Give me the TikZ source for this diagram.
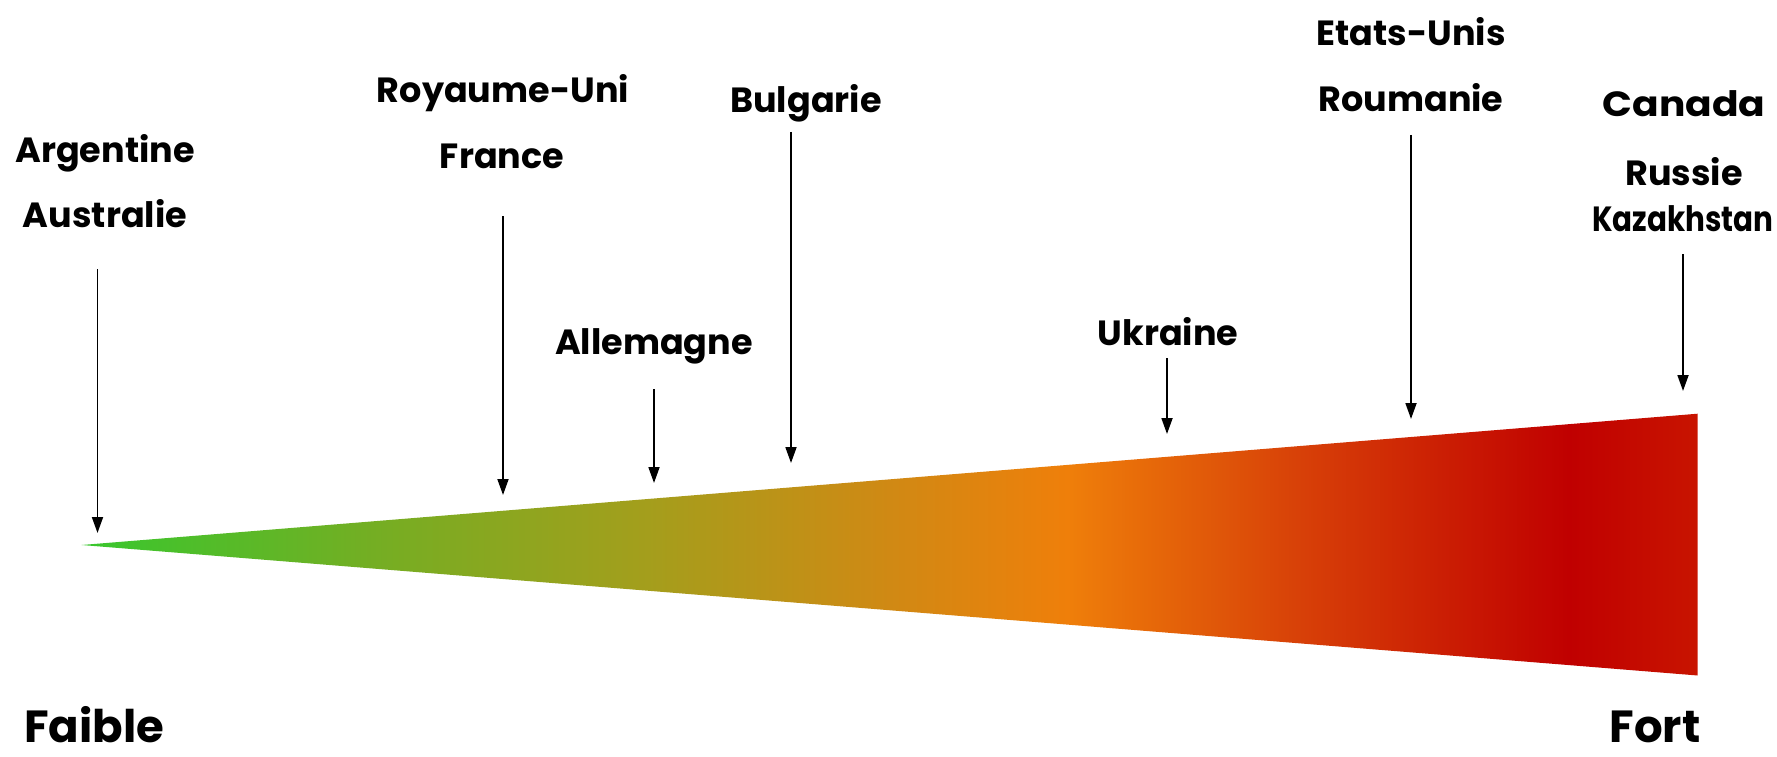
\documentclass[tikz,border=0pt]{standalone}
\usepackage{fontspec}
\setmainfont{Poppins}
\usetikzlibrary{arrows.meta}
\definecolor{cgreen}{HTML}{38C72E}
\definecolor{cgreen2}{HTML}{74AE23}
\definecolor{colive}{HTML}{A49E1C}
\definecolor{cochre}{HTML}{D08914}
\definecolor{corange}{HTML}{EF7F0A}
\definecolor{cred1}{HTML}{D84208}
\definecolor{cred}{HTML}{C00000}
\definecolor{cred2}{HTML}{C81400}
% path bounding box maps to 25bp..75bp of the shading
\pgfdeclarehorizontalshading{heat}{100bp}{color(0bp)=(cgreen); color(25bp)=(cgreen); color(34bp)=(cgreen2); color(42.5bp)=(colive); color(50bp)=(cochre); color(55.5bp)=(corange); color(62.5bp)=(cred1); color(71bp)=(cred); color(75bp)=(cred2); color(100bp)=(cred2)}
\begin{document}
\begin{tikzpicture}[x=1pt,y=-1pt,
  lbl/.style={font=\fontsize{35}{40}\selectfont\bfseries, inner sep=0pt, anchor=base},
  big/.style={font=\fontsize{45}{50}\selectfont\bfseries, inner sep=0pt, anchor=base, text depth=0pt},
  ptr/.style={line width=1.8pt, -{Triangle[length=16pt,width=11pt]}}]
\useasboundingbox[fill=white] (0,0) rectangle (1777,757);
% wedge
\shade[shading=heat] (81.6,545) -- (1697.7,413.7) -- (1697.7,675.5) -- cycle;
% labels
\node[lbl] (arg) at (105,162) {Argentine};
\node[lbl] (aus) at (105,227) {Australie};
\node[lbl] (ru) at (503,103) {Royaume-Uni};
\node[lbl] (fr) at (502,168) {France};
\node[lbl] (de) at (654,354) {Allemagne};
\node[lbl] (bg) at (806,113) {Bulgarie};
\node[lbl] (ua) at (1168,345) {Ukraine};
\node[lbl] (us) at (1411,46) {Etats-Unis};
\node[lbl] (ro) at (1411,112) {Roumanie};
\node[lbl] (ca) at (1684,117) {\scalebox{1.12}[1]{Canada}};
\node[lbl] (rus) at (1684,185) {Russie};
\node[lbl] (kz) at (1683,231) {\scalebox{0.84}[1]{Kazakhstan}};
\node[big] (faible) at (94,742) {Faible};
\node[big] (fort) at (1655,742) {Fort};
% arrow ends
\coordinate (s1) at (97.5,269); \coordinate (e1) at (97.5,533);
\coordinate (s2) at (503,216); \coordinate (e2) at (503,495);
\coordinate (s3) at (654,389); \coordinate (e3) at (654,483);
\coordinate (s4) at (791,132); \coordinate (e4) at (791,463);
\coordinate (s5) at (1167,358); \coordinate (e5) at (1167,434);
\coordinate (s6) at (1411,135); \coordinate (e6) at (1411,419);
\coordinate (s7) at (1683,254); \coordinate (e7) at (1683,391);
\draw[ptr] (s1) -- (e1);
\draw[ptr] (s2) -- (e2);
\draw[ptr] (s3) -- (e3);
\draw[ptr] (s4) -- (e4);
\draw[ptr] (s5) -- (e5);
\draw[ptr] (s6) -- (e6);
\draw[ptr] (s7) -- (e7);
\end{tikzpicture}
\end{document}
